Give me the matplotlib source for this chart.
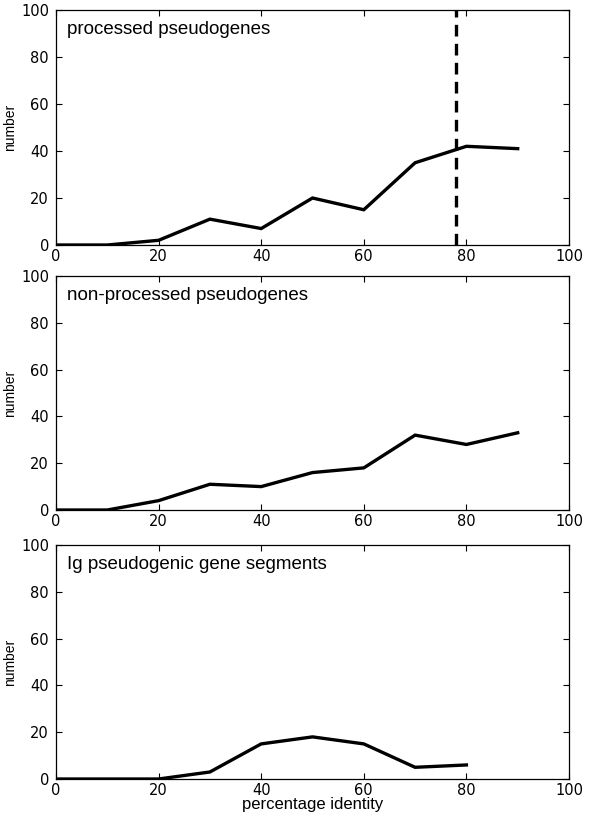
import numpy as np
import matplotlib.pyplot as plt

plt.rcParams['font.family'] = ['DejaVu Sans']

identity = [0, 10, 20, 30, 40, 50, 60, 70, 80, 90]
processed = [0, 0, 2, 11, 7, 20, 15, 35, 42, 41]
non_processed = [0, 0, 4, 11, 10, 16, 18, 32, 28, 33]
ig_identity = [0, 10, 20, 30, 40, 50, 60, 70, 80]
ig_segments = [0, 0, 0, 3, 15, 18, 15, 5, 6]
cutoff = 78

titles = ['processed pseudogenes', 'non-processed pseudogenes', 'Ig pseudogenic gene segments']
series = [(identity, processed), (identity, non_processed), (ig_identity, ig_segments)]

fig = plt.figure(figsize=(5.95, 8.13), dpi=100)
W, H = 595.0, 813.0
# pixel boxes: left, top, right, bottom
boxes = [(56, 10, 569, 245), (56, 276, 569, 510), (56, 545, 569, 779)]

for i, (box, title, (x, y)) in enumerate(zip(boxes, titles, series)):
    l, t, r, b = box
    ax = fig.add_axes([l / W, 1 - b / H, (r - l) / W, (b - t) / H])
    ax.plot(x, y, color='black', lw=2.4, solid_joinstyle='miter')
    if i == 0:
        ax.axvline(cutoff, color='black', lw=2.4, dashes=(3.5, 2.2))
    ax.set_xlim(0, 100)
    ax.set_ylim(0, 100)
    ax.set_xticks(np.arange(0, 101, 20))
    ax.set_yticks(np.arange(0, 101, 20))
    ax.tick_params(direction='in', top=True, right=True, length=4, width=0.8,
                   labelsize=10.5)
    ax.tick_params(axis='x', pad=3)
    ax.tick_params(axis='y', pad=5)
    for s in ax.spines.values():
        s.set_linewidth(0.9)
    ax.set_ylabel('number', fontsize=10, labelpad=3,
                  family=['Liberation Sans', 'DejaVu Sans'])
    ax.text(0.022, 0.915, title, transform=ax.transAxes, fontsize=13.5,
            va='center', ha='left', family=['Liberation Sans', 'DejaVu Sans'])
    if i == 2:
        ax.set_xlabel('percentage identity', fontsize=12, labelpad=-1,
                      family=['Liberation Sans', 'DejaVu Sans'])

fig.savefig('out.png', dpi=100)
